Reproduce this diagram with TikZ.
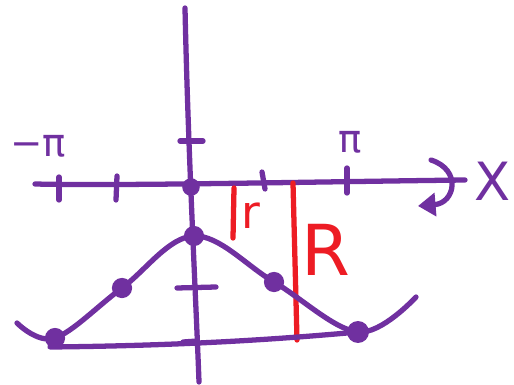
\documentclass[tikz,border=0pt]{standalone}
\usepackage{fontspec}
\newfontfamily\sketchfont{DejaVu Sans}
\usetikzlibrary{arrows.meta}
\definecolor{penpurple}{RGB}{112, 48, 160}
\definecolor{penred}{RGB}{237, 28, 36}

\begin{document}
\begin{tikzpicture}[x=0.02cm, y=-0.02cm, line cap=round, line join=round,
    pen/.style={draw=penpurple, line width=3pt},
    redpen/.style={draw=penred, line width=3pt},
    dot/.style={circle, fill=penpurple, inner sep=0pt, minimum size=11.5pt},
    lbl/.style={font=\sketchfont, inner sep=0pt}]
    \useasboundingbox (0, 0) rectangle (514, 385);

    % Axes
    \coordinate (xleft) at (35, 184);
    \coordinate (xright) at (465, 180);
    \coordinate (ytop) at (185, 8);
    \coordinate (ybottom) at (199, 382);
    \node[dot, minimum size=10pt] (origin) at (191, 187) {};
    \draw[pen] (xleft) .. controls (120, 186) and (300, 182) .. (xright);
    \draw[pen] (ytop) .. controls (188, 150) and (196, 300) .. (ybottom);

    % Ticks
    \draw[pen] (59, 177) -- (59, 200);
    \draw[pen] (117, 176) -- (116, 200);
    \draw[pen] (262, 172) -- (265, 189);
    \draw[pen] (347, 168) -- (347, 193);
    \draw[pen] (180, 141) -- (203, 141);
    \draw[pen] (177, 288) -- (216, 287);
    \draw[pen] (183, 342) -- (197, 341);

    % Labels
    \node[lbl, text=penpurple, font=\sketchfont\fontsize{22}{22}\selectfont] (mpi) at (38, 146) {−π};
    \node[lbl, text=penpurple, font=\sketchfont\fontsize{22}{22}\selectfont] (ppi) at (350, 142) {π};
    \node[lbl, text=penpurple, font=\sketchfont\fontsize{30}{30}\selectfont] (xlbl) at (493, 181) {X};

    % Rotation about X
    \draw[pen, -{Triangle[length=10pt, width=13pt]}] (431, 160) .. controls (462, 170) and (455, 203) .. (418, 206);

    % Radii
    \coordinate (rtop) at (234, 188);
    \coordinate (rbottom) at (233, 238);
    \coordinate (Rtop) at (293, 183);
    \coordinate (Rbottom) at (297, 340);
    \draw[redpen] (rtop) -- (rbottom);
    \draw[redpen] (Rtop) -- (Rbottom);
    \node[lbl, text=penred, font=\sketchfont\fontsize{26}{26}\selectfont] (rlbl) at (251, 216) {r};
    \node[lbl, text=penred, font=\sketchfont\fontsize{40}{40}\selectfont] (Rlbl) at (326, 250) {R};

    % Bell curve
    \node[dot] (p1) at (55, 338) {};
    \node[dot] (p2) at (122, 288) {};
    \node[dot] (p3) at (194, 236) {};
    \node[dot] (p4) at (274, 282) {};
    \node[dot, minimum size=12.5pt] (p5) at (358, 332) {};
    \coordinate (cstart) at (17, 323);
    \coordinate (cend) at (416, 297);
    \draw[pen] plot[smooth, tension=0.6] coordinates {(cstart) (p1.center) (p2.center) (p3.center) (p4.center) (p5.center) (cend)};
    \draw[pen] (p1.center) -- (50, 347) .. controls (150, 346) and (250, 342) .. (p5.center);
\end{tikzpicture}
\end{document}
